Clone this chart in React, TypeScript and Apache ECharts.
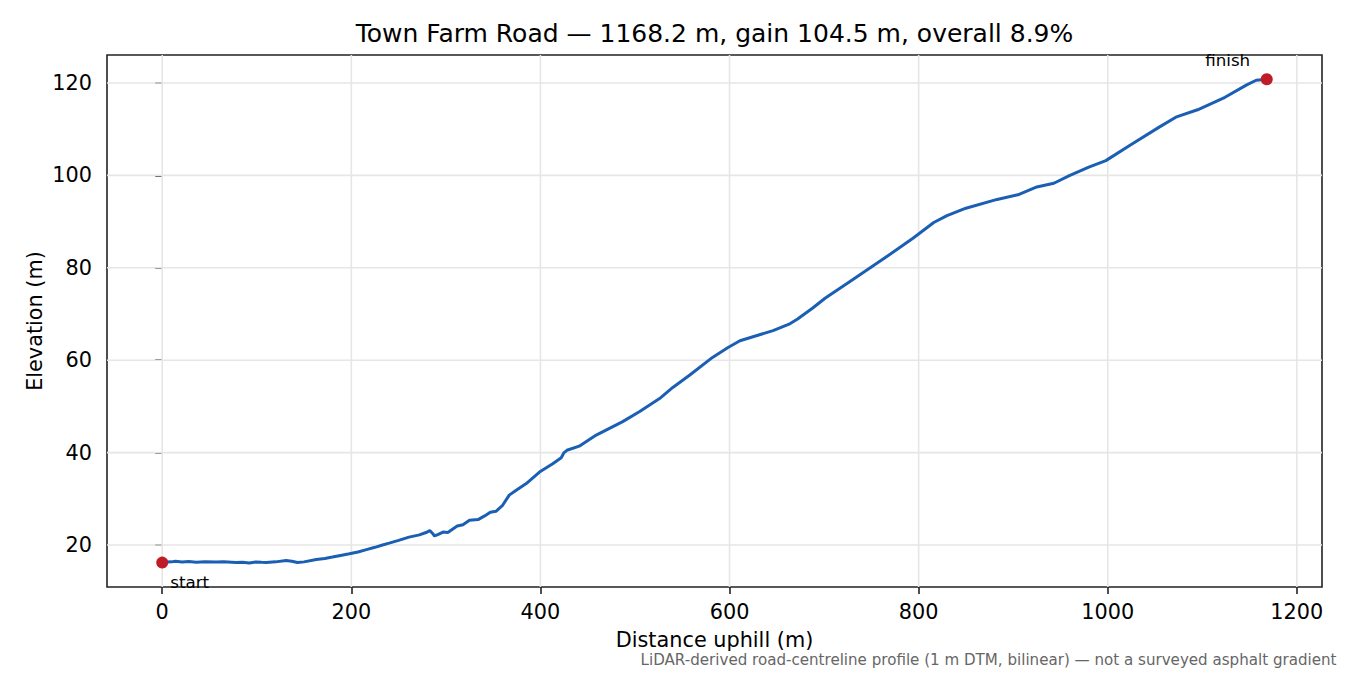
import React, { useEffect, useRef } from "react";
import * as echarts from "echarts";

const distance = [0, 5, 10, 14, 21, 28, 36, 45, 57, 65, 78, 85, 92, 99, 105, 110, 120, 131, 137, 143, 150, 163, 172, 180, 190, 198, 207, 216, 225, 233, 240, 250, 261, 272, 279, 283, 286, 288, 292, 297, 302, 307, 312, 318, 325, 334, 341, 347, 353, 360, 367, 374, 385, 399, 413, 422, 425, 428, 441, 459, 487, 505, 526, 540, 558, 582, 598, 611, 630, 646, 663, 672, 688, 701, 727, 764, 794, 816, 830, 850, 883, 905, 925, 943, 960, 980, 998, 1024, 1054, 1072, 1095, 1124, 1147, 1157, 1168.2];
const elevation = [16.19, 16.3, 16.35, 16.47, 16.33, 16.45, 16.27, 16.35, 16.3, 16.35, 16.2, 16.25, 16.1, 16.33, 16.25, 16.2, 16.35, 16.65, 16.5, 16.2, 16.35, 16.85, 17.1, 17.4, 17.8, 18.1, 18.5, 19.0, 19.5, 20.0, 20.4, 21.0, 21.7, 22.2, 22.7, 23.1, 22.5, 21.95, 22.3, 22.8, 22.7, 23.4, 24.1, 24.4, 25.35, 25.5, 26.3, 27.1, 27.3, 28.6, 30.8, 31.8, 33.3, 35.8, 37.6, 38.9, 40.0, 40.5, 41.4, 43.8, 46.7, 48.9, 51.7, 54.1, 56.8, 60.6, 62.7, 64.2, 65.4, 66.4, 67.8, 68.9, 71.3, 73.4, 77.0, 82.1, 86.4, 89.8, 91.3, 92.9, 94.8, 95.8, 97.5, 98.3, 100.0, 101.8, 103.2, 106.6, 110.4, 112.6, 114.2, 116.9, 119.6, 120.6, 120.82];

const xTicks = [0, 200, 400, 600, 800, 1000, 1200];
const yTicks = [20, 40, 60, 80, 100, 120];
const endLabels = ["start", "finish"];

const X_MIN = -58.41;
const X_MAX = 1226.61;
const Y_MIN = 10.91;
const Y_MAX = 126.06;

const FONT = "DejaVu Sans";

export default function App() {
  const ref = useRef<HTMLDivElement>(null);

  useEffect(() => {
    document.body.style.margin = "0";
    if (!ref.current) return;
    const chart = echarts.init(ref.current, null, { renderer: "svg" });

    const lineData = distance.map((d, i) => [d, elevation[i]]);
    const last = distance.length - 1;

    const gridSeries: any[] = [];
    xTicks.forEach((v) => {
      gridSeries.push({
        type: "line",
        data: [
          [v, Y_MIN],
          [v, Y_MAX],
        ],
        showSymbol: false,
        silent: true,
        z: 0,
        lineStyle: { color: "#e6e6e6", width: 1.6 },
      });
    });
    yTicks.forEach((v) => {
      gridSeries.push({
        type: "line",
        data: [
          [X_MIN, v],
          [X_MAX, v],
        ],
        showSymbol: false,
        silent: true,
        z: 0,
        lineStyle: { color: "#e6e6e6", width: 1.6 },
      });
    });

    chart.setOption({
      animation: false,
      textStyle: { fontFamily: FONT },
      title: {
        text: "Town Farm Road — 1168.2 m, gain 104.5 m, overall 8.9%",
        left: 714.5,
        top: 21,
        padding: 0,
        textAlign: "center",
        textStyle: { fontFamily: FONT, fontSize: 25, fontWeight: "normal", color: "#000" },
      },
      grid: {
        left: 107,
        right: 28,
        top: 55,
        bottom: 88,
        show: true,
        borderColor: "#222",
        borderWidth: 1.6,
        backgroundColor: "transparent",
      },
      xAxis: {
        type: "value",
        min: X_MIN,
        max: X_MAX,
        axisLine: { show: false },
        splitLine: { show: false },
        axisTick: {
          show: true,
          customValues: xTicks,
          length: 7,
          inside: false,
          lineStyle: { color: "#222", width: 1.6 },
        },
        axisLabel: {
          customValues: xTicks,
          formatter: (v: number) => String(v),
          fontFamily: FONT,
          fontSize: 20.8,
          color: "#000",
          margin: 14,
        },
      },
      yAxis: {
        type: "value",
        min: Y_MIN,
        max: Y_MAX,
        axisLine: { show: false },
        splitLine: { show: false },
        axisTick: {
          show: true,
          customValues: yTicks,
          length: 7,
          inside: false,
          lineStyle: { color: "#222", width: 1.6 },
        },
        axisLabel: {
          customValues: yTicks,
          formatter: (v: number) => String(v),
          fontFamily: FONT,
          fontSize: 20.8,
          color: "#000",
          margin: 15,
        },
      },
      graphic: [
        {
          type: "text",
          x: 714.5,
          y: 640,
          style: {
            text: "Distance uphill (m)",
            fontFamily: FONT,
            fontSize: 20.8,
            fill: "#000",
            align: "center",
            verticalAlign: "middle",
          },
        },
        {
          type: "text",
          x: 34.5,
          y: 321,
          rotation: Math.PI / 2,
          style: {
            text: "Elevation (m)",
            fontFamily: FONT,
            fontSize: 20.8,
            fill: "#000",
            align: "center",
            verticalAlign: "middle",
          },
        },
        {
          type: "text",
          x: 1336.5,
          y: 660,
          style: {
            text: "LiDAR-derived road-centreline profile (1 m DTM, bilinear) — not a surveyed asphalt gradient",
            fontFamily: FONT,
            fontSize: 15.1,
            fill: "#666",
            align: "right",
            verticalAlign: "middle",
          },
        },
      ],
      series: [
        ...gridSeries,
        {
          type: "line",
          data: lineData,
          showSymbol: false,
          silent: true,
          z: 3,
          lineStyle: { color: "#1a5fb4", width: 3 },
        },
        {
          type: "scatter",
          z: 4,
          symbolSize: 12,
          itemStyle: { color: "#c01c28", opacity: 1 },
          data: [
            {
              value: [distance[0], elevation[0]],
              label: {
                show: true,
                formatter: endLabels[0],
                position: "inside",
                align: "left",
                verticalAlign: "middle",
                offset: [8, 19],
                fontFamily: FONT,
                fontSize: 16.7,
                color: "#000",
              },
            },
            {
              value: [distance[last], elevation[last]],
              label: {
                show: true,
                formatter: endLabels[1],
                position: "inside",
                align: "right",
                verticalAlign: "middle",
                offset: [-16.6, -19],
                fontFamily: FONT,
                fontSize: 16.7,
                color: "#000",
              },
            },
          ],
        },
      ],
    });

    return () => {
      chart.dispose();
    };
  }, []);

  return <div ref={ref} style={{ width: 1350, height: 675 }} />;
}
